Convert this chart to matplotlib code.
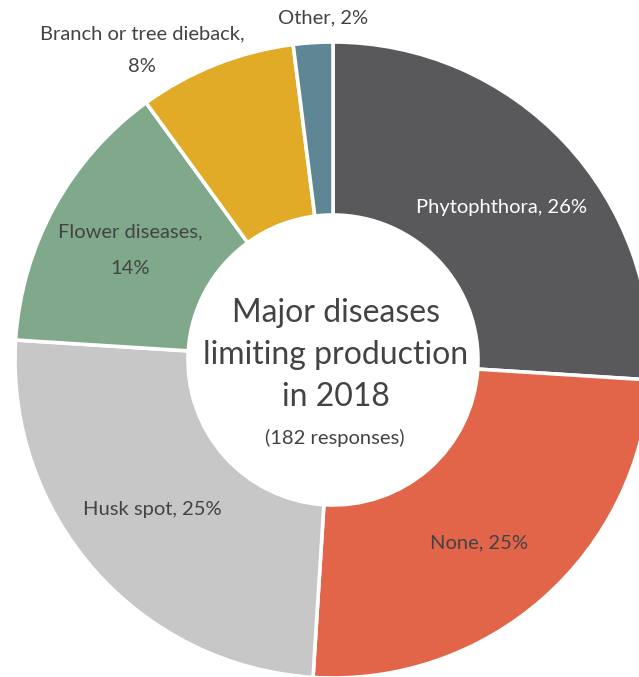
import matplotlib
matplotlib.use("Agg")
import matplotlib.pyplot as plt

categories = ["Phytophthora", "None", "Husk spot", "Flower diseases",
              "Branch or tree dieback", "Other"]
shares = [26, 25, 25, 14, 8, 2]
colors = ["#59595b", "#e2654a", "#c7c7c7", "#80a98b", "#e1aa27", "#5f8694"]

W, H = 639, 677
fig = plt.figure(figsize=(W / 100, H / 100), dpi=100)
ax = fig.add_axes([0, 0, 1, 1])

cx, cy = 333, H - 360
R = 318
ax.pie(shares, colors=colors, startangle=90, counterclock=False,
       center=(cx, cy), radius=R, frame=True,
       wedgeprops=dict(width=R - 145, edgecolor="white", linewidth=2.6))
ax.set_xlim(0, W)
ax.set_ylim(0, H)
ax.axis("off")

font = ["Lato", "DejaVu Sans"]
txt = "#434345"
lab = dict(ha="center", va="center", fontsize=14.5, family=font,
           weight="normal", color=txt)

ax.text(323, H - 18, f"{categories[5]}, {shares[5]}%", **lab)
ax.text(142, H - 50, f"{categories[4]},\n{shares[4]}%", linespacing=2.15, **lab)
ax.text(130, H - 250, f"{categories[3]},\n{shares[3]}%", linespacing=2.4, **lab)
ax.text(502, H - 207, f"{categories[0]}, {shares[0]}%",
        **{**lab, "color": "white"})
ax.text(479, H - 543, f"{categories[1]}, {shares[1]}%", **lab)
ax.text(152, H - 510, f"{categories[2]}, {shares[2]}%", **lab)

ctr = dict(ha="center", va="center", family=font, weight="normal", color=txt)
ax.text(336, H - 313, "Major diseases", fontsize=23, **ctr)
ax.text(336, H - 355, "limiting production", fontsize=23, **ctr)
ax.text(336, H - 397, "in 2018", fontsize=23, **ctr)
ax.text(335, H - 438, "(182 responses)", fontsize=14.5, **ctr)

fig.savefig("out.png", dpi=100)
